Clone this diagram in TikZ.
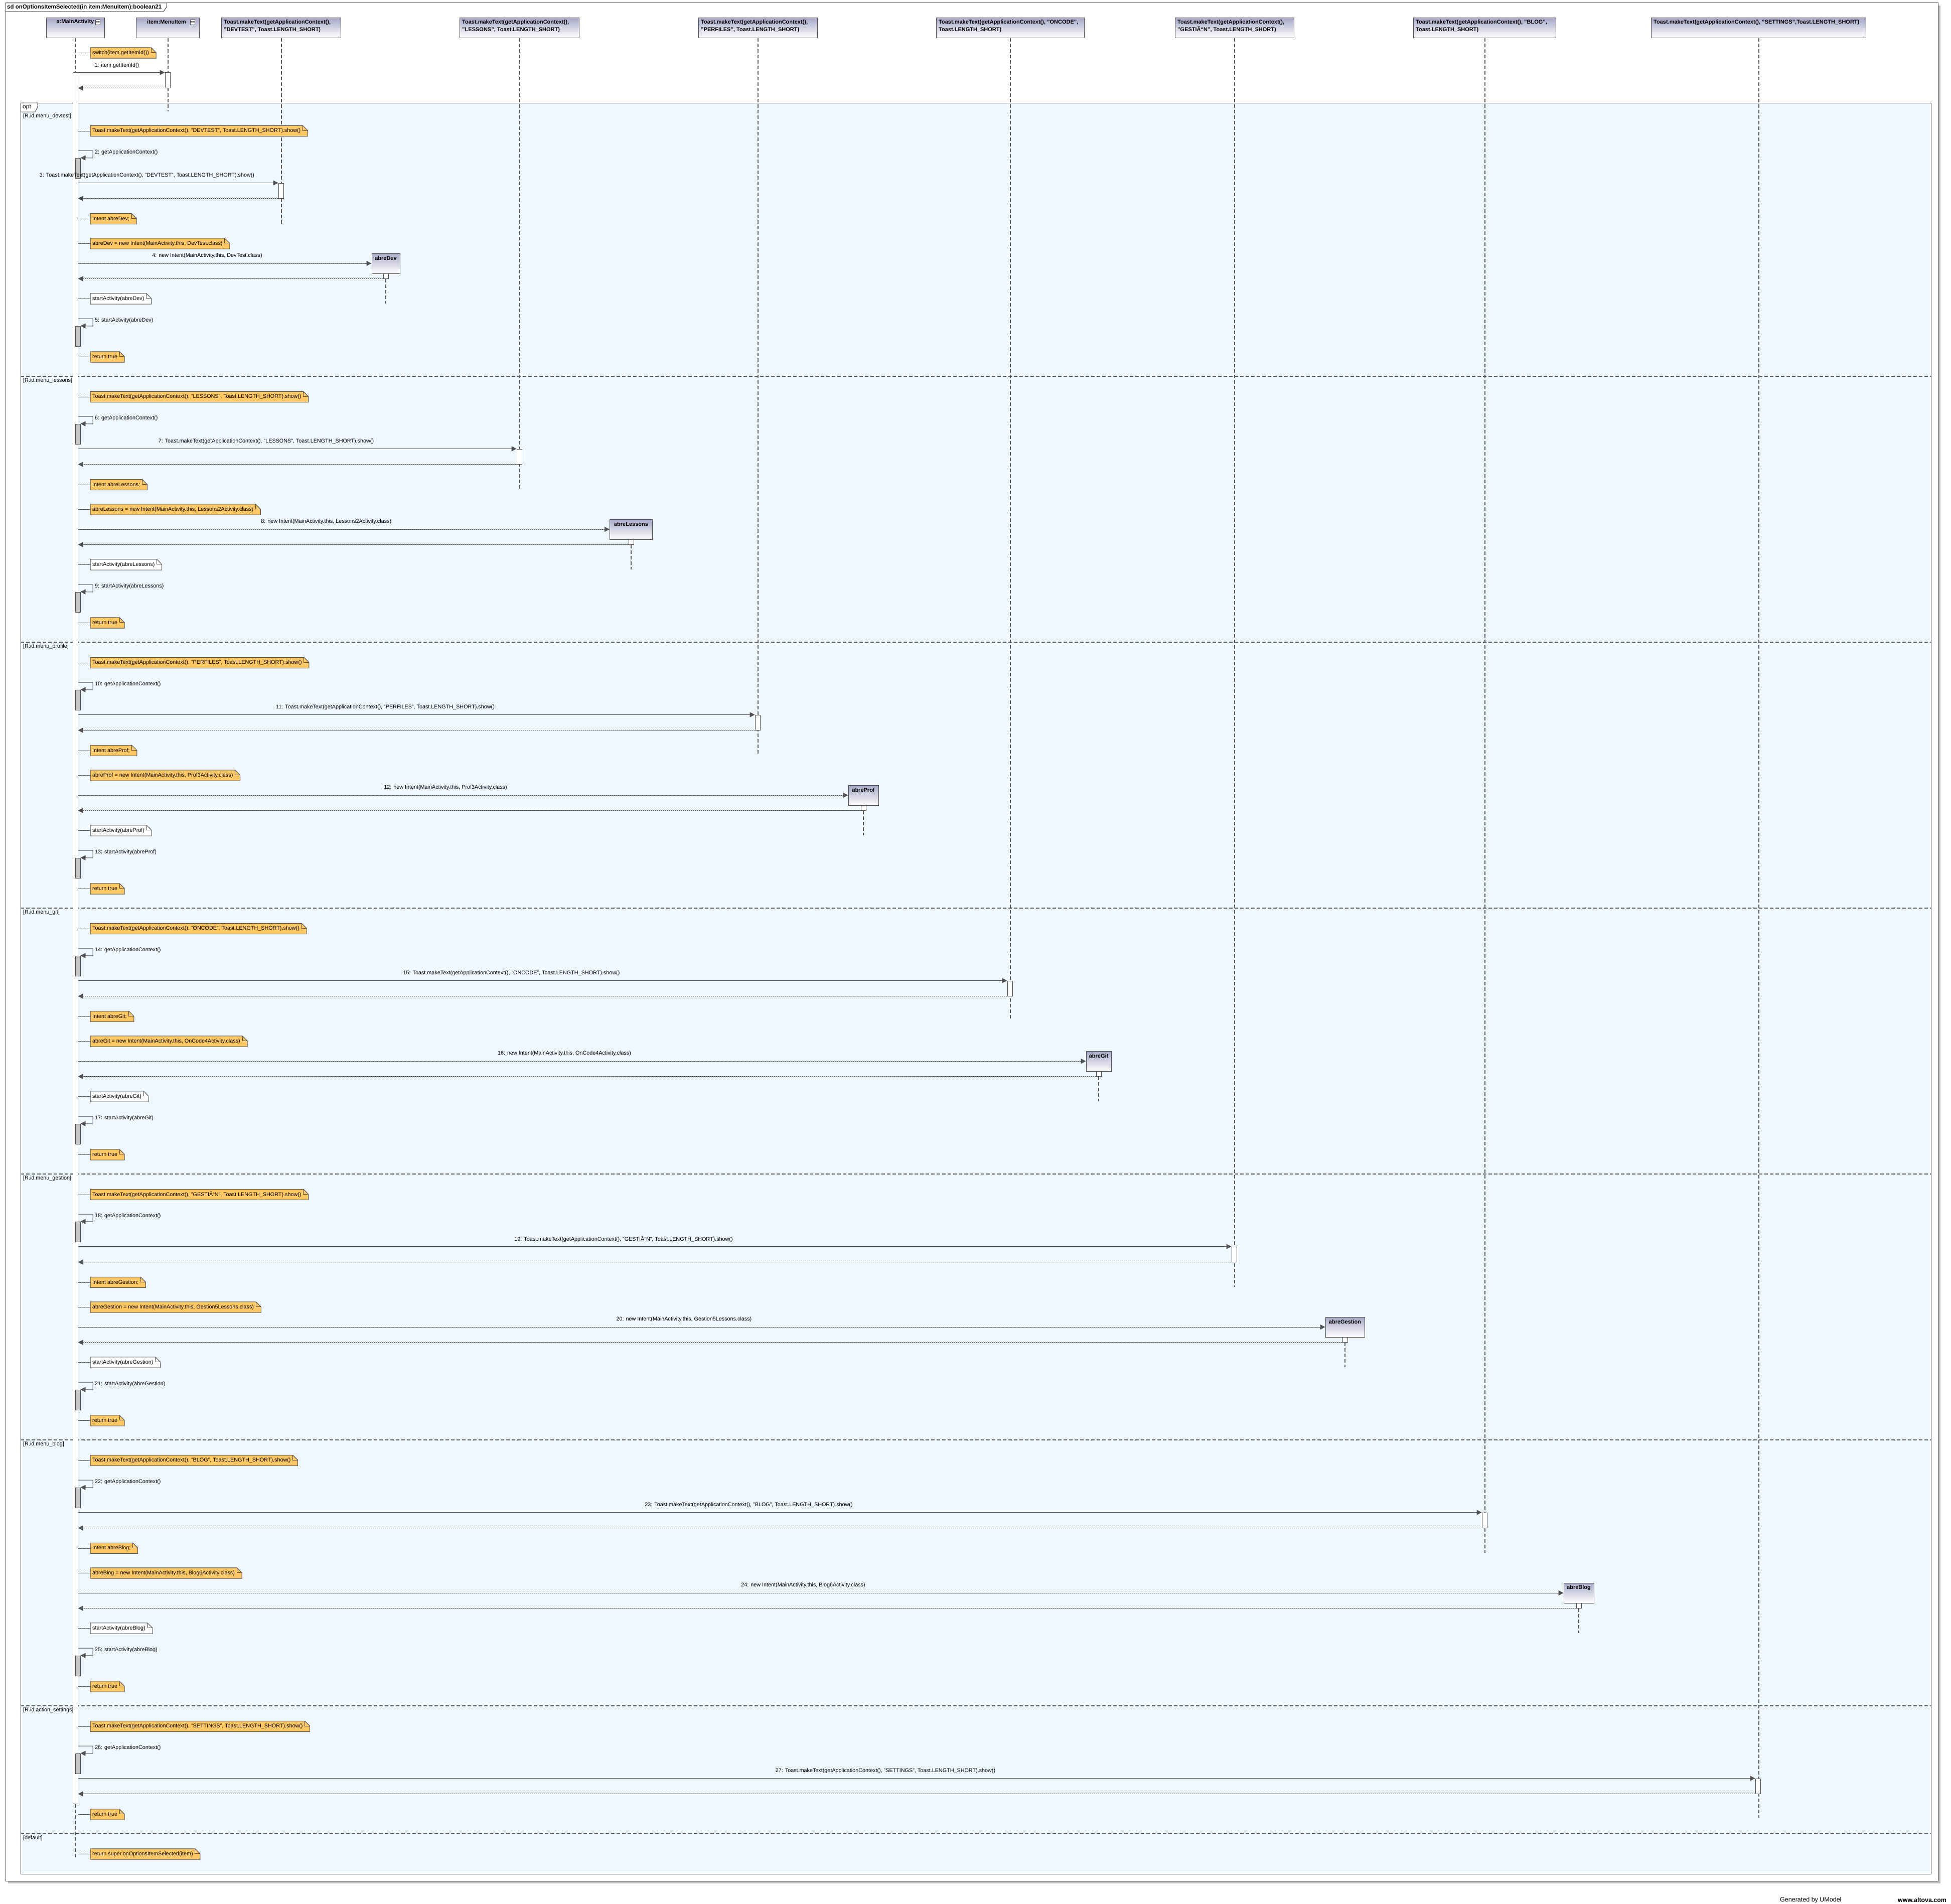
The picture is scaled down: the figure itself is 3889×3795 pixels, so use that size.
\documentclass[tikz,border=0pt]{standalone}
\usepackage{fontspec}
\setmainfont{Liberation Sans}
\usetikzlibrary{arrows.meta,calc}
\definecolor{dg}{RGB}{80,80,80}
\definecolor{lg}{RGB}{85,85,85}
\definecolor{fragbg}{RGB}{239,247,255}
\definecolor{noteor}{RGB}{255,200,100}
\definecolor{barg}{RGB}{200,200,200}
\definecolor{hdrtop}{RGB}{168,168,200}
\definecolor{shad}{RGB}{192,192,192}
\newcommand\ufs{\fontsize{10.8}{12}\selectfont}
\newcommand\uhf{\fontsize{11}{15}\selectfont\bfseries}
% note: name, ycenter, fill, background, text
\newcommand\unote[5]{%
  \node[notenode, fill=#3] (#1) at (180,#2) {\hspace*{4pt}#5\hspace*{14pt}};
  \fill[#4] ($(#1.north east)+(-10,0)$) -- (#1.north east) -- ($(#1.north east)+(0,10)$) -- cycle;
  \draw[ln] (#1.south west) -- (#1.north west) -- ($(#1.north east)+(-10,0)$) -- ($(#1.north east)+(0,10)$) -- (#1.south east) -- cycle;
  \draw[ln] ($(#1.north east)+(-10,0)$) -- ($(#1.north east)+(-10,10)$) -- ($(#1.north east)+(0,10)$);
  \draw[conn] (mbar.east |- #1.west) -- (#1.west);
}
% self message: name, ytop, label
\newcommand\selfm[3]{%
  \node[actg] (#1) at (155,#2+35) {};
  \coordinate (#1s) at (155,#2);
  \draw[msg] (#1s) -- ++(30,0) -- ++(0,15) -- (#1.north east);
  \node[lbl, anchor=west] (#1l) at (189,#2+4) {#3};
}
% call to a lifeline: name, arrow y, lifeline x, label
\newcommand\tmsg[4]{%
  \node[actw] (#1) at (#3,#2+15) {};
  \draw[msg] (mbar.east |- #1.north) -- (#1.north west);
  \draw[ret] (#1.south west) -- (mbar.east |- #1.south);
  \pgfmathsetmacro\ulx{(155+#3-5)/2-62}
  \node[lbl] (#1l) at (\ulx,#2-15) {#4};
}
% create message: name, base, cx, width, object label, message label
\newcommand\cmsg[6]{%
  \node[objbox, minimum width=#4pt] (#1) at (#3,#2+305) {};
  \node[lbl, font=\uhf] (#1t) at (#3,#2+295) {#5};
  \node[acts] (#1a) at (#3,#2+330) {};
  \coordinate (#1e) at (#3,#2+385);
  \draw[life] (#1a.south) -- (#1e);
  \draw[cmsgl] (mbar.east |- #1.west) -- (#1.west);
  \draw[ret] (#1a.south west) -- (mbar.east |- #1a.south);
  \pgfmathsetmacro\ulx{(155+#3-#4/2)/2-35}
  \node[lbl] (#1l) at (\ulx,#2+290) {#6};
}
\begin{document}
\begin{tikzpicture}[x=1pt,y=-1pt,
  ln/.style={draw=dg, line width=1pt},
  life/.style={draw=lg, line width=2pt, dash pattern=on 7pt off 4pt},
  sepl/.style={draw=lg, line width=2pt, dash pattern=on 7pt off 4pt},
  msg/.style={ln, -{Triangle[length=10pt,width=10pt]}},
  cmsgl/.style={ln, dash pattern=on 3pt off 1pt, -{Triangle[length=10pt,width=10pt]}},
  ret/.style={ln, dash pattern=on 3pt off 1pt, -{Triangle[length=10pt,width=10pt]}},
  conn/.style={ln, dash pattern=on 3pt off 1pt},
  notenode/.style={anchor=west, inner sep=0pt, minimum height=21pt, font=\ufs},
  lbl/.style={inner sep=0pt, font=\ufs},
  actw/.style={ln, fill=white, minimum width=10pt, minimum height=30pt, inner sep=0pt},
  actg/.style={ln, fill=barg, minimum width=10pt, minimum height=40pt, inner sep=0pt},
  acts/.style={ln, fill=white, minimum width=10pt, minimum height=10pt, inner sep=0pt},
  hdr/.style={ln, top color=hdrtop, bottom color=white, inner sep=0pt, minimum height=40pt, anchor=north west},
  objbox/.style={ln, top color=hdrtop, bottom color=white, inner sep=0pt, minimum height=40pt},
  hdrtxt/.style={font=\uhf, inner sep=0pt, align=left, anchor=north west},
  guard/.style={font=\ufs, inner sep=0pt, anchor=west},
]
\useasboundingbox (0,0) rectangle (3889,3795);
% outer frame
\fill[shad] (16,11) rectangle (3868,3754);
\draw[ln, fill=white] (11,6) rectangle (3863,3749);
\draw[ln, fill=white] (11,6) -- (332,6) -- (332,14) -- (326,23) -- (11,23) -- cycle;
\node[font=\fontsize{11.5}{13}\selectfont\bfseries, inner sep=0pt, anchor=west] (sdtitle) at (14,14.5) {sd onOptionsItemSelected(in item:MenuItem):boolean21};
% combined fragment
\draw[ln, fill=fragbg] (41,205) rectangle (3849,3735);
\draw[ln, fill=white] (41,205) -- (75,205) -- (75,213) -- (70,223) -- (41,223) -- cycle;
\node[font=\fontsize{12}{14}\selectfont, inner sep=0pt, anchor=west] (optlbl) at (45,213.5) {opt};
\foreach \sy in {750,1280,1810,2340,2870,3400,3655} \draw[sepl] (41,\sy) -- (3849,\sy);
\node[guard] (g1) at (46,232) {[R.id.menu\_devtest]};
\node[guard] (g2) at (46,759) {[R.id.menu\_lessons]};
\node[guard] (g3) at (46,1289) {[R.id.menu\_profile]};
\node[guard] (g4) at (46,1819) {[R.id.menu\_git]};
\node[guard] (g5) at (46,2349) {[R.id.menu\_gestion]};
\node[guard] (g6) at (46,2879) {[R.id.menu\_blog]};
\node[guard] (g7) at (46,3409) {[R.id.action\_settings]};
\node[guard] (g8) at (46,3664) {[default]};
% lifeline heads
\node[hdr, minimum width=116pt] (hMain) at (92,35) {};
\node[lbl, font=\uhf] (hMaint) at (150,44) {a:MainActivity};
\draw[ln, line width=0.8pt, fill=white] (190,39) rectangle (199,49);
\draw[ln, line width=0.8pt] (190,42.5) -- (199,42.5) (190,45.5) -- (199,45.5);
\node[hdr, minimum width=126pt] (hItem) at (271,35) {};
\node[lbl, font=\uhf] (hItemt) at (332,44) {item:MenuItem};
\draw[ln, line width=0.8pt, fill=white] (379,39) rectangle (388,49);
\draw[ln, line width=0.8pt] (379,42.5) -- (388,42.5) (379,45.5) -- (388,45.5);
\node[hdr, minimum width=238pt] (hT1) at (441,35) {};
\node[hdrtxt] (hT1t) at (446,39) {Toast.makeText(getApplicationContext(),\\"DEVTEST", Toast.LENGTH\_SHORT)};
\node[hdr, minimum width=238pt] (hT2) at (916,35) {};
\node[hdrtxt] (hT2t) at (921,39) {Toast.makeText(getApplicationContext(),\\"LESSONS", Toast.LENGTH\_SHORT)};
\node[hdr, minimum width=237pt] (hT3) at (1392,35) {};
\node[hdrtxt] (hT3t) at (1397,39) {Toast.makeText(getApplicationContext(),\\"PERFILES", Toast.LENGTH\_SHORT)};
\node[hdr, minimum width=295pt] (hT4) at (1866,35) {};
\node[hdrtxt] (hT4t) at (1871,39) {Toast.makeText(getApplicationContext(), "ONCODE",\\Toast.LENGTH\_SHORT)};
\node[hdr, minimum width=237pt] (hT5) at (2342,35) {};
\node[hdrtxt] (hT5t) at (2347,39) {Toast.makeText(getApplicationContext(),\\"GESTIÃ“N", Toast.LENGTH\_SHORT)};
\node[hdr, minimum width=284pt] (hT6) at (2817,35) {};
\node[hdrtxt] (hT6t) at (2822,39) {Toast.makeText(getApplicationContext(), "BLOG",\\Toast.LENGTH\_SHORT)};
\node[hdr, minimum width=428pt] (hT7) at (3291,35) {};
\node[hdrtxt] (hT7t) at (3296,39) {Toast.makeText(getApplicationContext(), "SETTINGS",Toast.LENGTH\_SHORT)};
% lifelines
\coordinate (mainTop) at (150,145);
\coordinate (mainEnd) at (150,3703);
\coordinate (itemEnd) at (hItem.south |- 0,222);
\coordinate (t1e) at (hT1.south |- 0,447);
\coordinate (t2e) at (hT2.south |- 0,976);
\coordinate (t3e) at (hT3.south |- 0,1503);
\coordinate (t4e) at (hT4.south |- 0,2034);
\coordinate (t5e) at (hT5.south |- 0,2565);
\coordinate (t6e) at (hT6.south |- 0,3095);
\coordinate (t7e) at (hT7.south |- 0,3623);
\draw[life] (hMain.south) -- (mainTop);
\draw[life] (hItem.south) -- (itemEnd);
\draw[life] (hT1.south) -- (t1e);
\draw[life] (hT2.south) -- (t2e);
\draw[life] (hT3.south) -- (t3e);
\draw[life] (hT4.south) -- (t4e);
\draw[life] (hT5.south) -- (t5e);
\draw[life] (hT6.south) -- (t6e);
\draw[life] (hT7.south) -- (t7e);
% main activation bar
\node[ln, fill=white, minimum width=10pt, minimum height=3450pt, inner sep=0pt] (mbar) at (150,1870) {};
\draw[life] (mbar.south) -- (mainEnd);
% start
\unote{nsw}{105.5}{noteor}{white}{switch(item.getItemId())}
\node[actw] (act1) at (334,160) {};
\draw[msg] (mbar.north east) -- (act1.north west);
\draw[ret] (act1.south west) -- (mbar.east |- act1.south);
\node[lbl] (act1l) at (233,131) {1: item.getItemId()};
% ---- devtest
\def\By{220}
\unote{n1a}{\By+41}{noteor}{fragbg}{Toast.makeText(getApplicationContext(), "DEVTEST", Toast.LENGTH\_SHORT).show()}
\selfm{s2}{\By+80}{2: getApplicationContext()}
\tmsg{a3}{\By+145}{560}{3: Toast.makeText(getApplicationContext(), "DEVTEST", Toast.LENGTH\_SHORT).show()}
\unote{n1b}{\By+216}{noteor}{fragbg}{Intent abreDev;}
\unote{n1c}{\By+265.5}{noteor}{fragbg}{abreDev = new Intent(MainActivity.this, DevTest.class)}
\cmsg{oDev}{\By}{769}{56}{abreDev}{4: new Intent(MainActivity.this, DevTest.class)}
\unote{n1d}{\By+375.5}{white}{fragbg}{startActivity(abreDev)}
\selfm{s5}{\By+415}{5: startActivity(abreDev)}
\unote{n1e}{\By+491.5}{noteor}{fragbg}{return true}
% ---- lessons
\def\By{750}
\unote{n2a}{\By+41}{noteor}{fragbg}{Toast.makeText(getApplicationContext(), "LESSONS", Toast.LENGTH\_SHORT).show()}
\selfm{s6}{\By+80}{6: getApplicationContext()}
\tmsg{a7}{\By+145}{1035}{7: Toast.makeText(getApplicationContext(), "LESSONS", Toast.LENGTH\_SHORT).show()}
\unote{n2b}{\By+216}{noteor}{fragbg}{Intent abreLessons;}
\unote{n2c}{\By+265.5}{noteor}{fragbg}{abreLessons = new Intent(MainActivity.this, Lessons2Activity.class)}
\cmsg{oLes}{\By}{1258}{85}{abreLessons}{8: new Intent(MainActivity.this, Lessons2Activity.class)}
\unote{n2d}{\By+375.5}{white}{fragbg}{startActivity(abreLessons)}
\selfm{s9}{\By+415}{9: startActivity(abreLessons)}
\unote{n2e}{\By+491.5}{noteor}{fragbg}{return true}
% ---- profile
\def\By{1280}
\unote{n3a}{\By+41}{noteor}{fragbg}{Toast.makeText(getApplicationContext(), "PERFILES", Toast.LENGTH\_SHORT).show()}
\selfm{s10}{\By+80}{10: getApplicationContext()}
\tmsg{a11}{\By+145}{1510}{11: Toast.makeText(getApplicationContext(), "PERFILES", Toast.LENGTH\_SHORT).show()}
\unote{n3b}{\By+216}{noteor}{fragbg}{Intent abreProf;}
\unote{n3c}{\By+265.5}{noteor}{fragbg}{abreProf = new Intent(MainActivity.this, Prof3Activity.class)}
\cmsg{oProf}{\By}{1721}{60}{abreProf}{12: new Intent(MainActivity.this, Prof3Activity.class)}
\unote{n3d}{\By+375.5}{white}{fragbg}{startActivity(abreProf)}
\selfm{s13}{\By+415}{13: startActivity(abreProf)}
\unote{n3e}{\By+491.5}{noteor}{fragbg}{return true}
% ---- git
\def\By{1810}
\unote{n4a}{\By+41}{noteor}{fragbg}{Toast.makeText(getApplicationContext(), "ONCODE", Toast.LENGTH\_SHORT).show()}
\selfm{s14}{\By+80}{14: getApplicationContext()}
\tmsg{a15}{\By+145}{2013}{15: Toast.makeText(getApplicationContext(), "ONCODE", Toast.LENGTH\_SHORT).show()}
\unote{n4b}{\By+216}{noteor}{fragbg}{Intent abreGit;}
\unote{n4c}{\By+265.5}{noteor}{fragbg}{abreGit = new Intent(MainActivity.this, OnCode4Activity.class)}
\cmsg{oGit}{\By}{2190}{50}{abreGit}{16: new Intent(MainActivity.this, OnCode4Activity.class)}
\unote{n4d}{\By+375.5}{white}{fragbg}{startActivity(abreGit)}
\selfm{s17}{\By+415}{17: startActivity(abreGit)}
\unote{n4e}{\By+491.5}{noteor}{fragbg}{return true}
% ---- gestion
\def\By{2340}
\unote{n5a}{\By+41}{noteor}{fragbg}{Toast.makeText(getApplicationContext(), "GESTIÃ“N", Toast.LENGTH\_SHORT).show()}
\selfm{s18}{\By+80}{18: getApplicationContext()}
\tmsg{a19}{\By+145}{2460}{19: Toast.makeText(getApplicationContext(), "GESTIÃ“N", Toast.LENGTH\_SHORT).show()}
\unote{n5b}{\By+216}{noteor}{fragbg}{Intent abreGestion;}
\unote{n5c}{\By+265.5}{noteor}{fragbg}{abreGestion = new Intent(MainActivity.this, Gestion5Lessons.class)}
\cmsg{oGes}{\By}{2681}{78}{abreGestion}{20: new Intent(MainActivity.this, Gestion5Lessons.class)}
\unote{n5d}{\By+375.5}{white}{fragbg}{startActivity(abreGestion)}
\selfm{s21}{\By+415}{21: startActivity(abreGestion)}
\unote{n5e}{\By+491.5}{noteor}{fragbg}{return true}
% ---- blog
\def\By{2870}
\unote{n6a}{\By+41}{noteor}{fragbg}{Toast.makeText(getApplicationContext(), "BLOG", Toast.LENGTH\_SHORT).show()}
\selfm{s22}{\By+80}{22: getApplicationContext()}
\tmsg{a23}{\By+145}{2959}{23: Toast.makeText(getApplicationContext(), "BLOG", Toast.LENGTH\_SHORT).show()}
\unote{n6b}{\By+216}{noteor}{fragbg}{Intent abreBlog;}
\unote{n6c}{\By+265.5}{noteor}{fragbg}{abreBlog = new Intent(MainActivity.this, Blog6Activity.class)}
\cmsg{oBlog}{\By}{3147}{60}{abreBlog}{24: new Intent(MainActivity.this, Blog6Activity.class)}
\unote{n6d}{\By+375.5}{white}{fragbg}{startActivity(abreBlog)}
\selfm{s25}{\By+415}{25: startActivity(abreBlog)}
\unote{n6e}{\By+491.5}{noteor}{fragbg}{return true}
% ---- settings
\def\By{3400}
\unote{n7a}{\By+41}{noteor}{fragbg}{Toast.makeText(getApplicationContext(), "SETTINGS", Toast.LENGTH\_SHORT).show()}
\selfm{s26}{\By+80}{26: getApplicationContext()}
\tmsg{a27}{\By+145}{3504}{27: Toast.makeText(getApplicationContext(), "SETTINGS", Toast.LENGTH\_SHORT).show()}
\unote{n7e}{\By+216.5}{noteor}{fragbg}{return true}
% ---- default
\unote{n8a}{3695.5}{noteor}{fragbg}{return super.onOptionsItemSelected(item)}
% footer
\node[font=\fontsize{12.5}{14}\selectfont, inner sep=0pt, anchor=west] (gen) at (3548,3787) {Generated by UModel};
\node[font=\fontsize{12.4}{14}\selectfont\bfseries, inner sep=0pt, anchor=west] (alt) at (3783,3787) {www.altova.com};
\end{tikzpicture}
\end{document}
